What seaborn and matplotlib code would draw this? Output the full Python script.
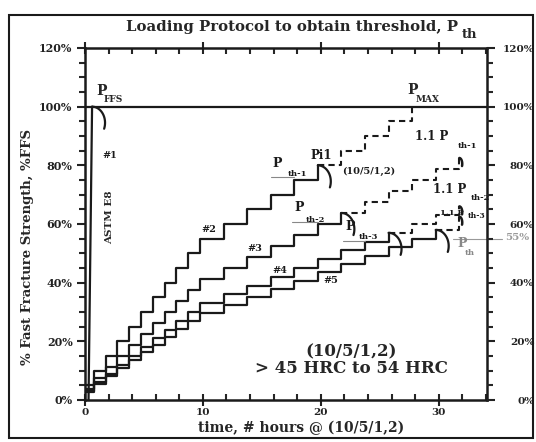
import matplotlib
matplotlib.use('Agg')
import matplotlib.pyplot as plt
import numpy as np
import pandas as pd
import seaborn as sns
from matplotlib.patches import Rectangle
from matplotlib.ticker import MultipleLocator, FuncFormatter

# Step start times (hours), shared by the stepped tests (10/5/1,2)
step_t = [0, 0.75, 1.75, 2.75, 3.75, 4.75, 5.75, 6.75, 7.75, 8.75, 9.75,
          11.75, 13.75, 15.75, 17.75, 19.75, 21.75, 23.75, 25.75, 27.75, 29.75, 31.75]

# #1 ASTM E8 fast fracture
astm_t = [0.3, 0.6]
astm_pct = [0, 100]

# Step load levels, % of P_FFS (solid, up to fracture)
pct_2 = [5, 10, 15, 20, 25, 30, 35, 40, 45, 50, 55, 60, 65, 70, 75, 80]
pct_3 = [3.75, 7.5, 11.25, 15, 18.75, 22.5, 26.25, 30, 33.75, 37.5, 41.25,
         45, 48.75, 52.5, 56.25, 60, 63.75]
pct_4 = [3, 6, 9, 12, 15, 18, 21, 24, 27, 30, 33, 36, 39, 42, 45, 48, 51, 54, 57]
pct_5 = [2.7, 5.4, 8.1, 10.8, 13.5, 16.2, 18.9, 21.6, 24.3, 27, 29.7, 32.4,
         35.1, 37.9, 40.6, 43.6, 46.3, 49.2, 52, 55, 58]

# Continuation of the protocol after fracture (dashed)
cont_2 = [80, 85, 90, 95, 100]
cont_3 = [63.75, 67.5, 71.25, 75, 78.75, 82.5]
cont_4 = [57, 60, 63, 66]
cont_5 = [58, 62.5]

y_ticks = [0, 20, 40, 60, 80, 100, 120]
x_ticks = [0, 10, 20, 30]

sns.set_theme(style='ticks')
plt.rcParams['font.family'] = ['DejaVu Serif']
plt.rcParams['font.weight'] = 'bold'

fig = plt.figure(figsize=(5.36, 4.42), dpi=100)
ax = fig.add_axes([85 / 536, 1 - 400 / 442, 402 / 536, 352 / 442])

LW = 1.6


def fracture(x0, y0, w=1.0, h=5.0, lw=LW):
    th = np.linspace(0, np.pi * 0.62, 30)
    ax.plot(x0 + w * np.sin(th), y0 - h + h * np.cos(th), color='k', lw=lw,
            solid_capstyle='round')


# 100% line (P_FFS / P_MAX)
ax.axhline(100, color='k', lw=LW)

# #1 ASTM E8
sns.lineplot(x=astm_t, y=astm_pct, ax=ax, color='k', lw=LW)
fracture(astm_t[-1], astm_pct[-1], w=1.1, h=5.5)

for pct, cont in [(pct_2, cont_2), (pct_3, cont_3), (pct_4, cont_4), (pct_5, cont_5)]:
    n = len(pct)
    sns.lineplot(x=step_t[:n], y=pct, ax=ax, color='k', lw=LW,
                 drawstyle='steps-post', estimator=None, sort=False)
    fracture(step_t[n - 1], pct[-1], w=1.1, h=5.5)
    ct = step_t[n - 1:n - 1 + len(cont)]
    ax.plot(ct, cont, color='k', lw=1.5, ls=(0, (3, 2)), drawstyle='steps-post')
    if cont[-1] < 100:
        fracture(ct[-1], cont[-1], w=0.25, h=2.0, lw=1.8)

ax.set_xlim(0, 34.1)
ax.set_ylim(0, 120)
ax.set_xticks(x_ticks)
ax.xaxis.set_minor_locator(MultipleLocator(2))
ax.set_yticks(y_ticks)
ax.yaxis.set_minor_locator(MultipleLocator(5))
ax.yaxis.set_major_formatter(FuncFormatter(lambda v, p: f'{v:.0f}%'))
ax.tick_params(axis='x', which='major', direction='inout', length=9, width=1.5,
               top=True, labelsize=7.5, pad=1, colors='#222')
ax.tick_params(axis='x', which='minor', direction='in', length=4, width=1.5, top=True)
ax.tick_params(axis='y', which='major', direction='out', length=6, width=1.5,
               labelsize=8, pad=3, colors='#222')
ax.tick_params(axis='y', which='minor', direction='out', length=4, width=1.5)
for s in ax.spines.values():
    s.set_linewidth(1.8)
    s.set_color('k')
ax.set_xlabel('')
ax.set_ylabel('')

# right-hand percentage axis
ax2 = ax.twinx()
ax2.set_ylim(0, 120)
ax2.set_yticks(y_ticks)
ax2.set_yticklabels([f'{v}%' for v in y_ticks])
ax2.yaxis.set_minor_locator(MultipleLocator(5))
ax2.tick_params(axis='y', which='major', direction='out', length=6, width=1.5,
                labelsize=7.5, pad=28, colors='#222')
ax2.tick_params(axis='y', which='minor', direction='out', length=4, width=1.5)
plt.setp(ax2.get_yticklabels(), ha='right')
for s in ax2.spines.values():
    s.set_visible(False)

# labels on the chart
def lab(x, y, s, size=7, color='k', **kw):
    ax.text(x, y, s, fontsize=size, fontweight='bold', color=color, va='center',
            ha='left', clip_on=False, **kw)

ax.text(1.0, 103, 'P', fontsize=10, fontweight='bold', va='bottom')
ax.text(1.6, 100.8, 'FFS', fontsize=6.5, fontweight='bold', va='bottom')
ax.text(27.3, 103.4, 'P', fontsize=10, fontweight='bold', va='bottom')
ax.text(28.0, 100.8, 'MAX', fontsize=6.5, fontweight='bold', va='bottom')

lab(1.45, 83.5, '#1')
ax.text(2.1, 62.4, 'ASTM E8', fontsize=7.5, fontweight='bold', rotation=90,
        ha='center', va='center')
lab(9.9, 58, '#2')
lab(13.8, 51.8, '#3')
lab(15.9, 44.3, '#4')
lab(20.2, 40.9, '#5')

lab(15.9, 80.5, 'P', size=9)
lab(17.2, 77.2, 'th-1', size=6)
ax.plot([15.8, 17.75], [76, 76], color='#888', lw=0.8)
lab(19.1, 83.2, 'Pi1', size=8.5)
lab(21.8, 78, '(10/5/1,2)', size=7)
lab(28.0, 89.7, '1.1 P', size=8.5)
lab(31.6, 86.6, 'th-1', size=6)

lab(17.8, 65.5, 'P', size=9)
lab(18.7, 61.3, 'th-2', size=6)
ax.plot([17.6, 19.75], [60.6, 60.6], color='#888', lw=0.8)
lab(22.1, 59, 'P', size=9)
lab(23.2, 55.4, 'th-3', size=6)
ax.plot([21.9, 23.75], [54.3, 54.3], color='#888', lw=0.8)
lab(29.5, 71.8, '1.1 P', size=8.5)
lab(32.7, 69, 'th-2', size=6)
lab(30.1, 63.6, '1.1 P', size=6)
lab(32.5, 62.6, 'th-3', size=5.5)

lab(31.6, 53.3, 'P', size=9, color='#888')
lab(32.2, 50.2, 'th', size=6, color='#888')
ax.plot([31.2, 35.4], [55, 55], color='#999', lw=0.8, clip_on=False)
lab(35.6, 55.3, '55%', size=7.5, color='#999')

ax.text(22.6, 16.4, '(10/5/1,2)', fontsize=12, fontweight='bold', ha='center', va='center')
ax.text(22.6, 10.9, '> 45 HRC to 54 HRC', fontsize=12, fontweight='bold',
        ha='center', va='center')

# title, axis labels, outer frame
fig.text(126 / 536, 1 - 27 / 442, 'Loading Protocol to obtain threshold, P',
         fontsize=10.7, fontweight='bold', ha='left', va='center')
fig.text(462 / 536, 1 - 34 / 442, 'th', fontsize=9.5, fontweight='bold',
         ha='left', va='center')
fig.text(301 / 536, 1 - 428 / 442, 'time, # hours @ (10/5/1,2)', fontsize=10,
         fontweight='bold', ha='center', va='center')
fig.text(28 / 536, 1 - 247 / 442, '% Fast Fracture Strength, %FFS', fontsize=9.5,
         fontweight='bold', rotation=90, ha='center', va='center')
fig.patches.append(Rectangle((9 / 536, 4 / 442), 524 / 536, 423 / 442,
                             transform=fig.transFigure, fill=False, lw=1.5,
                             edgecolor='k'))

fig.savefig('out.png', dpi=100)
